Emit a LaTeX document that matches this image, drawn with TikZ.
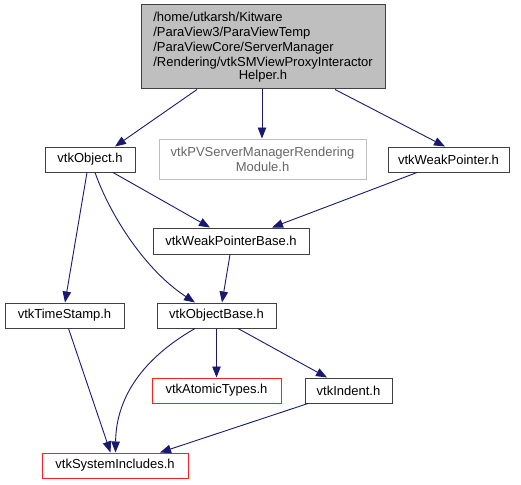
\documentclass[tikz,border=0pt]{standalone}
\usepackage{fontspec}
\setmainfont{Liberation Sans}
\usetikzlibrary{arrows.meta}
\definecolor{edgeblue}{HTML}{191970}
\definecolor{boxgray}{HTML}{BFBFBF}
\definecolor{pvtext}{HTML}{666666}
\definecolor{borderc}{HTML}{404040}
\definecolor{redb}{HTML}{FF2020}
\tikzset{
  box/.style={draw=borderc, line width=1pt, rectangle, inner sep=0pt, minimum height=25pt,
    font=\fontsize{13}{15}\selectfont, fill=white},
  redbox/.style={box, draw=redb},
  pvbox/.style={box, draw=boxgray, text=pvtext, minimum height=40pt},
  topbox/.style={box, fill=boxgray, minimum height=84pt, minimum width=244pt, align=center},
  dep/.style={draw=edgeblue, line width=0.9pt, -{Triangle[length=11pt,width=8.5pt]}, color=edgeblue},
}
\begin{document}
\begin{tikzpicture}[x=1pt,y=-1pt]
\useasboundingbox (0,0) rectangle (521,484);
\node[topbox] (top) at (263,47) {\begin{tabular}{@{}l@{}}/home/utkarsh/Kitware\\/ParaView3/ParaViewTemp\\/ParaViewCore/ServerManager\\/Rendering/vtkSMViewProxyInteractor\end{tabular}\\[-2pt]Helper.h};
\node[box, minimum width=90pt] (obj) at (90,159.5) {vtkObject.h};
\node[pvbox, minimum width=207pt, align=center] (pv) at (262.5,159) {vtkPVServerManagerRendering\\Module.h};
\node[box, minimum width=121pt] (wp) at (448.5,159.5) {vtkWeakPointer.h};
\node[box, minimum width=156pt, minimum height=26pt] (wpb) at (231,241) {vtkWeakPointerBase.h};
\node[box, minimum width=119pt] (ts) at (64.5,315.5) {vtkTimeStamp.h};
\node[box, minimum width=119pt] (ob) at (216.5,315.5) {vtkObjectBase.h};
\node[redbox, minimum width=129pt] (at) at (216.5,390.5) {vtkAtomicTypes.h};
\node[box, minimum width=87pt] (ind) at (348.5,390.5) {vtkIndent.h};
\node[redbox, minimum width=146pt] (sys) at (115,465.5) {vtkSystemIncludes.h};

\draw[dep] ([xshift=-66pt]top.south) -- ([xshift=25pt]obj.north);
\draw[dep] ([xshift=-1pt]top.south) -- ([xshift=-0.5pt]pv.north);
\draw[dep] ([xshift=72pt]top.south) -- ([xshift=-3.5pt]wp.north);
\draw[dep] ([xshift=-3pt]obj.south) -- ([xshift=0.5pt]ts.north);
\draw[dep] ([xshift=5pt]obj.south) .. controls (110,215) and (145,270) .. ([xshift=-21.5pt]ob.north);
\draw[dep] ([xshift=23pt]obj.south) -- ([xshift=-21pt]wpb.north);
\draw[dep] ([xshift=-31.5pt]wp.south) -- ([xshift=41pt]wpb.north);
\draw[dep] ([xshift=-1pt]wpb.south) -- ([xshift=5.5pt]ob.north);
\draw[dep] ([xshift=4pt]ts.south) -- ([xshift=-4.5pt]sys.north);
\draw[dep] ([xshift=-21.5pt]ob.south) .. controls (140,360) and (116,400) .. ([xshift=0.5pt]sys.north);
\draw[dep] (ob.south) -- (at.north);
\draw[dep] ([xshift=21.5pt]ob.south) -- ([xshift=-21.5pt]ind.north);
\draw[dep] ([xshift=-40.5pt]ind.south) -- ([xshift=45pt]sys.north);
\end{tikzpicture}
\end{document}
